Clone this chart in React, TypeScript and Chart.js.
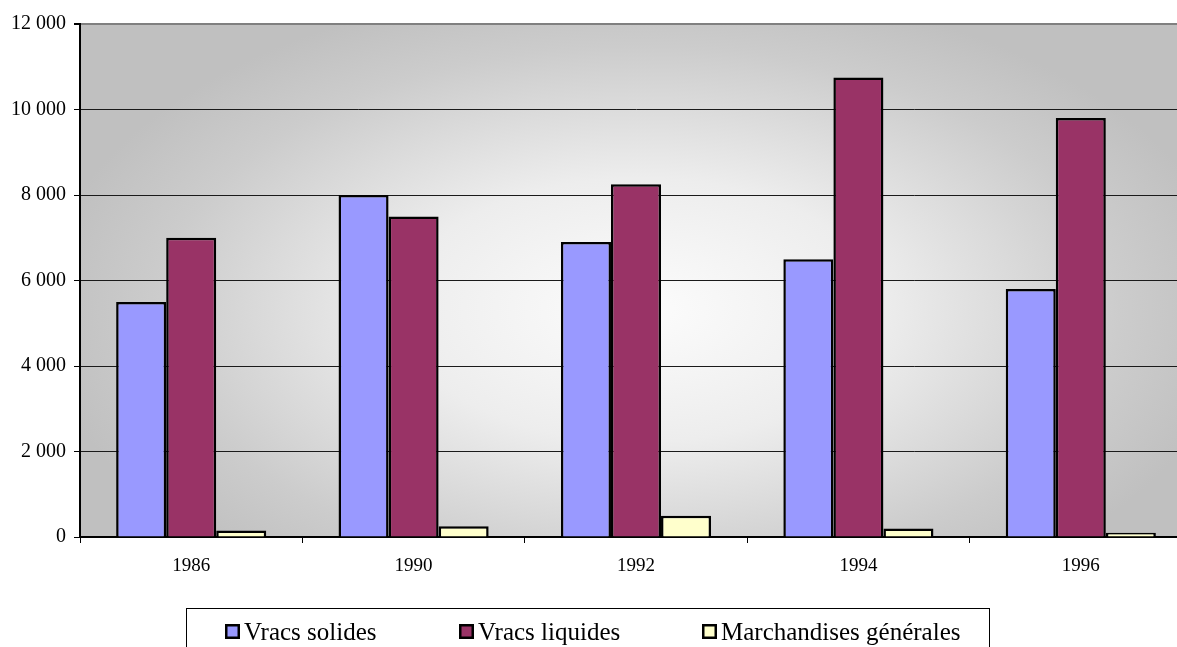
import React, { useEffect, useRef } from "react";
import { Chart, registerables } from "chart.js";

Chart.register(...registerables);

const categories = ["1986", "1990", "1992", "1994", "1996"];
const seriesNames = ["Vracs solides", "Vracs liquides", "Marchandises générales"];
const vracsSolides = [5500, 8000, 6900, 6500, 5800];
const vracsLiquides = [7000, 7500, 8250, 10750, 9800];
const marchandisesGenerales = [150, 250, 500, 200, 100];
const seriesColors = ["#9999FF", "#993366", "#FFFFCC"];
const yMax = 12000;
const yStep = 2000;

const FONT = "'Liberation Serif', 'Times New Roman', serif";

const fmt = (v: number) => String(v).replace(/\B(?=(\d{3})+(?!\d))/g, " ");

const bgPlugin = {
  id: "bgGradient",
  beforeDraw(chart: any) {
    const { ctx, chartArea } = chart;
    const { left, top, right, bottom } = chartArea;
    ctx.save();
    ctx.beginPath();
    ctx.rect(left, top, right - left, bottom - top);
    ctx.clip();
    ctx.fillStyle = "#C0C0C0";
    ctx.fillRect(left, top, right - left, bottom - top);
    const cx = 640;
    const cy = 310;
    const sy = 0.55;
    ctx.translate(cx, cy);
    ctx.scale(1, sy);
    const g = ctx.createRadialGradient(0, 0, 0, 0, 0, 600);
    g.addColorStop(0, "#FCFCFC");
    g.addColorStop(0.4, "#EDEDED");
    g.addColorStop(0.8, "#CCCCCC");
    g.addColorStop(1, "#C0C0C0");
    ctx.fillStyle = g;
    ctx.fillRect(-800, -800 / sy, 1600, 1600 / sy);
    ctx.restore();
  },
};

const legendPlugin = {
  id: "boxLegend",
  afterDraw(chart: any) {
    const { ctx } = chart;
    ctx.save();
    ctx.strokeStyle = "#000";
    ctx.lineWidth = 1;
    ctx.strokeRect(186.5, 608.5, 803, 60);
    const xs = [225, 459, 702];
    ctx.font = `25px ${FONT}`;
    ctx.textBaseline = "alphabetic";
    ctx.textAlign = "left";
    chart.data.datasets.forEach((ds: any, i: number) => {
      const x = xs[i];
      ctx.fillStyle = ds.backgroundColor;
      ctx.fillRect(x, 624, 15, 15);
      ctx.lineWidth = 2.5;
      ctx.strokeStyle = "#000";
      ctx.strokeRect(x + 1.25, 625.25, 12.5, 12.5);
      ctx.fillStyle = "#000";
      ctx.fillText(ds.label, x + 19, 640);
    });
    ctx.restore();
  },
};

export default function App() {
  const ref = useRef<HTMLCanvasElement | null>(null);
  useEffect(() => {
    if (!ref.current) return;
    const seriesData = [vracsSolides, vracsLiquides, marchandisesGenerales];
    const chart = new Chart(ref.current, {
      type: "bar",
      data: {
        labels: categories,
        datasets: seriesNames.map((name, i) => ({
          label: name,
          data: seriesData[i],
          backgroundColor: seriesColors[i],
          borderColor: "#000",
          borderWidth: 2.5,
          categoryPercentage: 0.675,
          barPercentage: 1,
        })),
      },
      options: {
        animation: false,
        responsive: false,
        maintainAspectRatio: false,
        layout: { padding: { top: 24, right: 8, left: 0, bottom: 0 } },
        plugins: {
          legend: { display: false },
          tooltip: { enabled: false },
        },
        scales: {
          x: {
            grid: {
              offset: true,
              drawOnChartArea: false,
              drawTicks: true,
              tickLength: 6,
              tickColor: "#000",
              tickWidth: 1,
            },
            border: { color: "#000", width: 2 },
            ticks: {
              color: "#000",
              font: { family: FONT, size: 19 },
              padding: 12,
              maxRotation: 0,
            },
            afterFit(scale: any) {
              scale.height = 110;
            },
          },
          y: {
            min: 0,
            max: yMax,
            ticks: {
              stepSize: yStep,
              color: "#000",
              font: { family: FONT, size: 20 },
              padding: 8,
              callback: (v: any) => fmt(Number(v)),
            },
            grid: {
              color: (c: any) => (c.tick && c.tick.value === yMax ? "#808080" : "#1a1a1a"),
              lineWidth: (c: any) => (c.tick && c.tick.value === yMax ? 2 : 1),
              tickColor: "#000",
              tickLength: 6,
              drawTicks: true,
            },
            border: { color: "#000", width: 2 },
            afterFit(scale: any) {
              scale.width = 80;
            },
          },
        },
      },
      plugins: [bgPlugin, legendPlugin],
    });
    return () => chart.destroy();
  }, []);
  return (
    <div style={{ position: "fixed", left: 0, top: 0, width: "1177px", height: "647px", overflow: "hidden", background: "#fff" }}>
      <canvas ref={ref} width={1200} height={647} style={{ display: "block", width: "1200px", height: "647px" }} />
    </div>
  );
}
